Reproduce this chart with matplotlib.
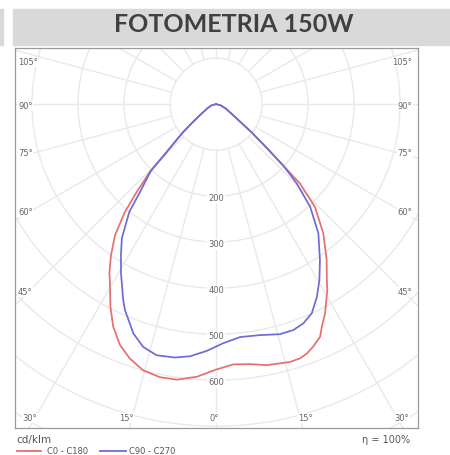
import matplotlib
matplotlib.use("Agg")
import matplotlib.pyplot as plt
from matplotlib.patches import Circle, Rectangle
import numpy as np

# polar photometry, gamma in degrees (0 = nadir, negative = left half), values in cd/klm
red_gamma = [-90, -75, -65, -58, -55.5, -52, -49.7, -47.5, -45.9, -44.3, -42.1, -40.2,
             -37.6, -34.8, -32.3, -31.1, -27.5, -24.8, -21.7, -18.7, -15.3, -11.6,
             -8.1, -4.0, 0, 3.8, 7.5, 11, 16, 18.3, 20, 21.8, 24.1, 25.4, 27.5, 30.9,
             32.2, 35.4, 39.7, 43.9, 46.6, 47.5, 49, 51.5, 56, 65, 75, 90]
red_cd = [0, 10, 20, 33, 43, 66, 93, 120, 149, 206, 257, 307,
          360, 400, 434, 447, 497, 533, 564, 584, 600, 606,
          605, 594, 577, 567, 570, 578, 583, 582, 577, 568, 554, 536, 513, 471,
          452, 415, 365, 310, 251, 200, 150, 100, 50, 24, 11, 0]

blue_gamma = [-90, -75, -65, -58, -55.5, -52, -49.7, -47.5, -45.9, -44.3, -40.9, -38.8,
              -35.1, -32.2, -29.4, -25.3, -23.8, -19.8, -16.7, -13.3, -9.2, -5.9, -2.2,
              1.7, 5.9, 10.7, 15.5, 18.9, 21.7, 24.6, 27.6, 30.4, 33.7, 38.4, 42.5, 45.5,
              47.5, 49, 51.5, 56, 65, 75, 90]
blue_cd = [0, 10, 20, 33, 43, 66, 93, 120, 149, 203, 252, 301,
           356, 388, 421, 472, 490, 530, 551, 561, 558, 551, 537,
           520, 509, 511, 519, 519, 513, 500, 473, 444, 407, 358, 303, 246,
           200, 150, 100, 50, 24, 11, 0]

ring_values = [100, 200, 300, 400, 500, 600, 700, 800, 900]
ring_labels = [200, 300, 400, 500, 600]
spoke_angles = list(range(0, 360, 15))

RED = "#e2716f"
BLUE = "#6d6bd8"
GRID = "#e9e9e9"
TXT = "#666666"


def xy(gamma, cd):
    g = np.deg2rad(np.asarray(gamma, dtype=float))
    r = np.asarray(cd, dtype=float)
    return r * np.sin(g), -r * np.cos(g)


fig = plt.figure(figsize=(4.5, 4.55), dpi=100)

# title band
fig.patches.append(Rectangle((13 / 450, 1 - 45 / 455), 437 / 450, 36 / 455,
                             transform=fig.transFigure, color="#d9d9d9", zorder=0))
fig.patches.append(Rectangle((0, 1 - 45 / 455), 3 / 450, 36 / 455,
                             transform=fig.transFigure, color="#d9d9d9", zorder=0))
fig.text(234 / 450, 1 - 24 / 455, "FOTOMETRIA 150W", ha="center", va="center",
         fontsize=18, fontweight="bold", color="#404040", family="Lato")

ax = fig.add_axes([15 / 450, 1 - 428 / 455, 403 / 450, 380 / 455])
ax.set_xlim(-437, 439)
ax.set_ylim(-704, 122)
ax.set_xticks([])
ax.set_yticks([])
for s in ax.spines.values():
    s.set_color("#9a9a9a")
    s.set_linewidth(0.9)

for rv in ring_values:
    ax.add_patch(Circle((0, 0), rv, fill=False, ec=GRID, lw=1.0, zorder=1))
for a in spoke_angles:
    t = np.deg2rad(a)
    ax.plot([100 * np.sin(t), 1200 * np.sin(t)], [-100 * np.cos(t), -1200 * np.cos(t)],
            color=GRID, lw=1.0, zorder=1)

for rv in ring_labels:
    ax.text(0, -rv - 5, str(rv), ha="center", va="center", fontsize=6, color=TXT,
            bbox=dict(fc="white", ec="none", pad=0.6), zorder=2)

# angle labels around the frame (pixel positions in the frame)
def px(x, y):
    return (x - 216) / 0.46, (104 - y) / 0.46

side = [("105°", 62), ("90°", 106), ("75°", 153), ("60°", 212), ("45°", 292)]
for lab, yy in side:
    x0, y0 = px(18, yy)
    ax.text(x0, y0, lab, ha="left", va="center", fontsize=6, color=TXT,
            bbox=dict(fc="white", ec="none", pad=0.4), zorder=2)
    x1, y1 = px(412, yy)
    ax.text(x1, y1, lab, ha="right", va="center", fontsize=6, color=TXT,
            bbox=dict(fc="white", ec="none", pad=0.4), zorder=2)
bottom = [("30°", 30), ("15°", 126), ("0°", 214), ("15°", 305), ("30°", 402)]
for lab, xx in bottom:
    x0, y0 = px(xx, 418)
    ax.text(x0, y0, lab, ha="center", va="center", fontsize=6, color=TXT,
            bbox=dict(fc="white", ec="none", pad=0.4), zorder=2)

rx, ry = xy(red_gamma, red_cd)
bx, by = xy(blue_gamma, blue_cd)
ax.plot(rx, ry, color=RED, lw=1.25, zorder=3, solid_joinstyle="round")
ax.plot(bx, by, color=BLUE, lw=1.25, zorder=4, solid_joinstyle="round")

# footer
fig.text(16 / 450, 1 - 440 / 455, "cd/klm", ha="left", va="center", fontsize=7.5, color="#555555")
fig.text(410 / 450, 1 - 440 / 455, "η = 100%", ha="right", va="center", fontsize=7, color="#555555")
fig.lines.append(plt.Line2D([17 / 450, 41 / 450], [1 - 451 / 455] * 2, transform=fig.transFigure,
                            color=RED, lw=1.3))
fig.text(47 / 450, 1 - 451 / 455, "C0 - C180", ha="left", va="center", fontsize=6, color="#555555")
fig.lines.append(plt.Line2D([100 / 450, 126 / 450], [1 - 451 / 455] * 2, transform=fig.transFigure,
                            color=BLUE, lw=1.3))
fig.text(129 / 450, 1 - 451 / 455, "C90 - C270", ha="left", va="center", fontsize=6, color="#555555")

fig.savefig("out.png", dpi=100)
